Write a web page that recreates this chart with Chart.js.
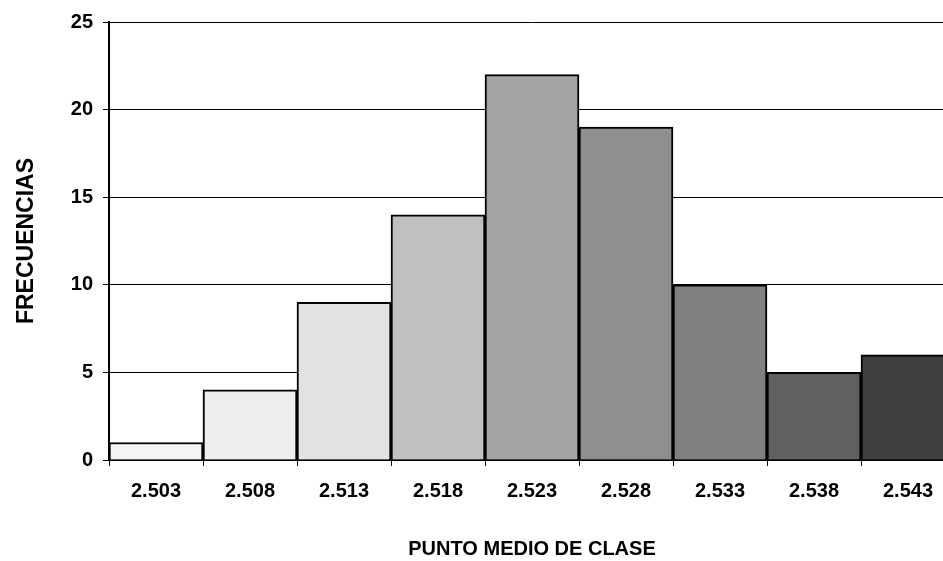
<!DOCTYPE html>
<html>
<head>
<meta charset="utf-8">
<title>Frecuencias por punto medio de clase</title>
<script src="https://cdn.jsdelivr.net/npm/chart.js@4/dist/chart.umd.min.js"></script>
<style>
  html, body { margin: 0; padding: 0; background: #ffffff; overflow: hidden; }
  #wrap { width: 955px; height: 561px; }
</style>
</head>
<body>
<div id="wrap"><canvas id="hist" width="955" height="561"></canvas></div>
<script>
// Class midpoints (x categories) and their observed frequencies
const classMidpoints = ['2.503', '2.508', '2.513', '2.518', '2.523', '2.528', '2.533', '2.538', '2.543'];
const frequencies = [1, 4, 9, 14, 22, 19, 10, 5, 6];
const yTickValues = [0, 5, 10, 15, 20, 25];

// Grey ramp, light to dark, one shade per class
const barShades = ['#f4f4f4', '#eeeeee', '#e2e2e2', '#c0c0c0', '#a3a3a3', '#8f8f8f', '#808080', '#606060', '#404040'];

const FONT = '"Liberation Sans", Arial, sans-serif';

new Chart(document.getElementById('hist'), {
  type: 'bar',
  data: {
    labels: classMidpoints,
    datasets: [{
      data: frequencies,
      backgroundColor: barShades,
      borderColor: '#000000',
      borderWidth: 2,
      borderSkipped: 'bottom',
      barPercentage: 1.0,
      categoryPercentage: 1.0
    }]
  },
  options: {
    responsive: false,
    animation: false,
    devicePixelRatio: 1,
    layout: { padding: { top: 19, right: 0, bottom: 0, left: 0 } },
    plugins: {
      legend: { display: false },
      tooltip: { enabled: false }
    },
    scales: {
      x: {
        type: 'category',
        offset: true,
        grid: {
          offset: true,
          drawOnChartArea: false,
          drawTicks: true,
          tickLength: 6,
          color: '#000000',
          lineWidth: 1
        },
        border: { display: true, color: '#000000', width: 2 },
        ticks: {
          color: '#000000',
          padding: 13,
          maxRotation: 0,
          autoSkip: false,
          font: { family: FONT, size: 20, weight: 'bold' }
        },
        title: {
          display: true,
          text: 'PUNTO MEDIO DE CLASE',
          color: '#000000',
          padding: { top: 0, bottom: 0 },
          font: { family: FONT, size: 20, weight: 'bold' }
        },
        afterFit: (scale) => { scale.height = 101; }
      },
      y: {
        min: 0,
        max: 25,
        afterBuildTicks: (scale) => { scale.ticks = yTickValues.map(v => ({ value: v })); },
        grid: {
          drawTicks: true,
          tickLength: 6,
          color: '#000000',
          lineWidth: 1
        },
        border: { display: true, color: '#000000', width: 2 },
        ticks: {
          color: '#000000',
          padding: 10,
          font: { family: FONT, size: 20, weight: 'bold' }
        },
        title: {
          display: true,
          text: 'FRECUENCIAS',
          color: '#000000',
          padding: { top: 13, bottom: 0 },
          font: { family: FONT, size: 23, weight: 'bold' }
        },
        afterFit: (scale) => { scale.width = 109; }
      }
    }
  }
});
</script>
</body>
</html>
